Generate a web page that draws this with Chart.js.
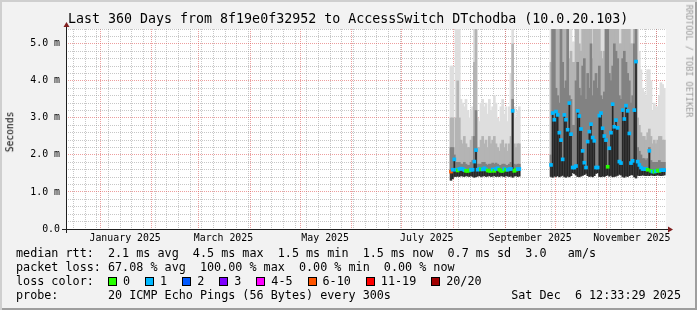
<!DOCTYPE html>
<html>
<head>
<meta charset="utf-8">
<title>Last 360 Days from 8f19e0f32952 to AccessSwitch DTchodba</title>
<script src="https://cdn.jsdelivr.net/npm/chart.js@4.4.1/dist/chart.umd.min.js"></script>
<style>
  html, body { margin: 0; padding: 0; background: #f2f2f2; }
  #frame { position: relative; width: 697px; height: 310px; background: #f2f2f2;
           box-shadow: inset 2px 2px 0 #cfcfcf, inset -2px -2px 0 #9e9e9e; overflow: hidden;
           font-family: "DejaVu Sans Mono", monospace; color: #000; }
  #chart { position: absolute; left: 0; top: 0; }
  .txt { position: absolute; white-space: pre; line-height: 1; }
  #title { left: 68px; top: 12.2px; font-size: 13.3px; }
  .leg { left: 16px; font-size: 11.75px; }
  #ylab { left: 10px; top: 132px; font-size: 9.6px; transform: translate(-50%, -50%) rotate(-90deg); }
  #wm { left: 688.5px; top: 61px; font-size: 8.5px; color: #9a9a9a; transform: translate(-50%, -50%) rotate(90deg); }
  #date { right: 16px; top: 290px; font-size: 11.75px; }
  #boxes { position: absolute; left: 108px; top: 276px; display: flex; align-items: center; font-size: 11.75px; line-height: 1; white-space: pre; }
  .bx { width: 9px; height: 9px; box-sizing: border-box; border: 1px solid #000; margin-right: 6px; }
  .bl { margin-right: 15px; }
</style>
</head>
<body>
<div id="frame">
  <canvas id="chart" width="697" height="310"></canvas>
  <div id="title" class="txt"></div>
  <div id="ylab" class="txt"></div>
  <div id="wm" class="txt"></div>
  <div id="l1" class="txt leg" style="top:248px"></div>
  <div id="l2" class="txt leg" style="top:262px"></div>
  <div id="l3" class="txt leg" style="top:276px"></div>
  <div id="boxes"></div>
  <div id="l4" class="txt leg" style="top:290px"></div>
  <div id="date" class="txt"></div>
</div>
<script>
// ---------- texts ----------
const titleText = 'Last 360 Days from 8f19e0f32952 to AccessSwitch DTchodba (10.0.20.103)';
const yAxisTitle = 'Seconds';
const watermark = 'RRDTOOL / TOBI OETIKER';
const legendRtt = 'median rtt:  2.1 ms avg  4.5 ms max  1.5 ms min  1.5 ms now  0.7 ms sd  3.0   am/s';
const legendLoss = 'packet loss: 67.08 % avg  100.00 % max  0.00 % min  0.00 % now';
const legendColorTitle = 'loss color:';
const legendProbe = 'probe:       20 ICMP Echo Pings (56 Bytes) every 300s';
const dateText = 'Sat Dec  6 12:33:29 2025';

// ---------- axes ----------
const START_MS = Date.UTC(2024, 11, 11, 12, 33, 29);
const DAY_MS = 86400000;
const SPAN_DAYS = 360;
const Y_MAX = 5.4;
const monthLabels = ['January 2025', 'March 2025', 'May 2025', 'July 2025', 'September 2025', 'November 2025'];
const labelMonthIndex = [0, 2, 4, 6, 8, 10];
const yTickLabels = ['0.0', '1.0 m', '2.0 m', '3.0 m', '4.0 m', '5.0 m'];

// ---------- loss colours ----------
const lossBins = ['0', '1', '2', '3', '4-5', '6-10', '11-19', '20/20'];
const lossColors = ['#26ff00', '#00b8ff', '#0059ff', '#7e00ff', '#ff00ff', '#ff5500', '#ff0000', '#a00000'];

// ---------- data: segment A (first day index 231 = late July 2025) ----------
const firstDayA = 231;
const medianA = [1.55,1.60,1.88,1.60,1.58,1.62,1.63,1.62,1.59,1.57, 1.57,1.58,1.60,1.60,1.82,2.13,1.60,1.62,1.61,1.61,
                 1.64,1.61,1.58,1.57,1.57,1.61,1.57,1.62,1.64,1.60, 1.57,1.57,1.62,1.60,1.60,1.62,1.62,3.19,1.57,1.60, 1.62,1.62];
const lossA   = [8,1,1,1,0,1,1,1,1,0, 0,0,1,1,1,1,1,1,0,1, 1,1,0,0,0,1,0,1,1,0, 0,0,1,0,1,1,1,1,0,0, 1,1];
const minA    = [1.32,1.36,1.42,1.42,1.43,1.42,1.44,1.43,1.42,1.44, 1.43,1.42,1.44,1.42,1.40,1.41,1.43,1.44,1.42,1.43,
                 1.44,1.42,1.43,1.44,1.42,1.43,1.44,1.42,1.43,1.42, 1.44,1.43,1.42,1.44,1.43,1.42,1.43,1.40,1.43,1.44, 1.42,1.43];
const maxA    = [4.4,4.4,3.0,5.5,5.5,5.5,3.5,3.4,3.3,3.5, 3.2,3.0,3.2,3.3,5.5,5.5,3.0,2.9,3.4,3.5,
                 3.3,3.4,3.1,3.5,3.2,3.3,3.6,3.4,3.0,2.9, 3.3,3.5,3.1,3.3,2.9,3.3,4.2,5.5,3.3,3.0, 3.2,3.3];
const p80A    = [3.0,3.0,2.2,3.0,4.0,3.0,2.4,2.3,2.5,2.3, 2.2,2.2,2.4,2.5,4.5,5.5,2.2,2.2,2.4,2.5,
                 2.3,2.4,2.2,2.5,2.3,2.4,2.5,2.3,2.2,2.1, 2.3,2.4,2.2,2.3,2.1,2.3,2.5,5.0,2.3,2.2, 2.3,2.3];
const p60A    = [2.2,2.2,2.0,1.8,1.8,1.8,1.75,1.75,1.8,1.75, 1.72,1.72,1.8,1.85,2.5,3.2,1.75,1.75,1.75,1.8,
                 1.8,1.75,1.72,1.75,1.75,1.78,1.75,1.78,1.75,1.72, 1.72,1.75,1.75,1.72,1.72,1.75,1.8,3.5,1.75,1.72, 1.75,1.75];

// ---------- data: segment B (first day index 291 = late September 2025) ----------
const firstDayB = 291;
const medianB = [1.73,3.13,2.95,3.17,3.08,2.60,2.40,1.88,3.08,2.95, 2.68,3.40,2.56,1.66,1.66,1.70,3.19,3.05,2.70,2.11,
                 1.79,1.66,2.36,2.63,2.83,2.47,2.38,1.66,1.66,3.06, 3.13,2.72,2.51,2.40,1.68,2.18,2.60,3.37,2.76,2.94,
                 2.73,1.82,1.78,3.21,2.97,3.33,3.19,2.58,1.78,1.84, 3.21,4.52,1.82,1.73,1.66,1.62,1.62,1.62,1.60,2.11,
                 1.57,1.55,1.55,1.56,1.58,1.57,1.59,1.59,1.59];
const lossB   = [1,1,1,1,1,1,1,1,1,1, 1,1,1,1,1,1,1,1,1,1, 1,1,1,1,1,1,1,1,1,1, 1,1,1,1,0,1,1,1,1,1,
                 1,1,1,1,1,1,1,1,1,1, 1,1,1,1,1,1,1,1,0,1, 0,1,0,1,0,0,1,1,1];
const minB    = [1.42,1.40,1.43,1.42,1.44,1.41,1.43,1.45,1.42,1.40, 1.43,1.41,1.44,1.52,1.50,1.46,1.42,1.41,1.43,1.45,
                 1.47,1.50,1.44,1.42,1.43,1.41,1.44,1.50,1.52,1.42, 1.41,1.43,1.42,1.44,1.46,1.43,1.45,1.41,1.42,1.43,
                 1.45,1.48,1.46,1.42,1.40,1.43,1.42,1.44,1.47,1.46, 1.41,1.38,1.45,1.44,1.45,1.46,1.45,1.44,1.45,1.44,
                 1.46,1.45,1.44,1.45,1.46,1.45,1.44,1.45,1.46];
const maxB    = [5.5,5.5,5.5,5.5,5.5,5.5,5.5,5.5,5.5,5.5, 5.5,5.5,5.5,5.05,5.05,5.5,5.5,5.5,5.5,5.5,
                 5.5,5.5,5.5,5.5,5.5,5.5,5.5,5.5,5.5,5.5, 5.5,5.5,5.5,5.5,5.5,5.5,5.5,5.5,5.5,5.5,
                 5.5,5.5,5.5,5.5,5.5,5.5,5.5,5.5,5.5,5.5, 5.5,5.5,5.4,4.8,4.3,3.8,3.7,3.6,4.3,4.3,
                 4.0,3.2,3.4,3.3,3.3,3.6,3.95,3.9,3.8];
const p80B    = [4.5,5.5,5.5,5.5,5.5,5.5,5.5,5.5,5.5,5.5, 5.5,4.6,4.8,4.5,4.5,5.5,5.5,5.0,4.8,5.5,
                 5.5,5.5,5.5,5.5,5.5,4.6,5.5,5.5,5.5,5.5, 4.8,4.6,4.8,5.5,5.5,5.5,5.5,5.5,5.5,5.5,
                 5.5,5.0,5.0,5.5,5.5,5.5,5.5,5.5,5.0,5.0, 5.5,5.5,3.0,2.8,2.6,2.5,2.5,2.4,2.6,2.7,
                 2.5,2.3,2.4,2.3,2.4,2.5,2.5,2.4,2.4];
const p60B    = [2.0,5.5,5.5,3.8,3.6,3.4,5.5,4.5,3.8,4.0, 5.5,3.6,3.5,2.8,2.8,4.0,4.5,3.8,3.6,4.4,
                 4.6,3.5,4.2,3.8,5.0,3.6,4.0,4.2,3.8,4.4, 3.6,3.5,3.7,5.5,5.5,4.2,4.0,4.4,5.0,4.8,
                 4.6,3.6,3.5,4.6,4.8,4.5,4.2,4.0,3.4,3.6, 5.0,5.5,2.2,2.1,2.0,1.9,1.9,1.85,1.9,2.2,
                 1.85,1.8,1.8,1.8,1.8,1.85,1.8,1.8,1.8];

// ---------- build ----------
function lossIndex(n) {
  if (n <= 3) return n;
  if (n <= 5) return 4;
  if (n <= 10) return 5;
  if (n <= 19) return 6;
  return 7;
}
function rangePoints(first, lo, hi) {
  return lo.map((v, i) => ({ x: first + i, y: [v, hi[i]] }));
}
function layer(loA, hiA, loB, hiB) {
  return rangePoints(firstDayA, loA, hiA).concat(rangePoints(firstDayB, loB, hiB));
}
const MARK_HALF = 1.5 * Y_MAX / 200; // half height of the median marker (1.5 px)
const medianPts = medianA.map((m, i) => ({ x: firstDayA + i, y: [m - MARK_HALF, m + MARK_HALF], loss: lossA[i] }))
  .concat(medianB.map((m, i) => ({ x: firstDayB + i, y: [m - MARK_HALF, m + MARK_HALF], loss: lossB[i] })));

function dayOf(y, m, d) { return (Date.UTC(y, m, d) - START_MS) / DAY_MS; }
const monthStarts = [];
for (let k = 0; k < 14; k++) { const v = dayOf(2024, 11 + k, 1); if (v > 0 && v < SPAN_DAYS) monthStarts.push(v); }
const weekLines = [];
for (let v = dayOf(2024, 11, 16); v < SPAN_DAYS; v += 7) weekLines.push(v);
const labelDays = labelMonthIndex.map(m => dayOf(2025, m, 16));
const xTicks = [];
weekLines.forEach(v => xTicks.push({ value: v, kind: 'minor', text: '' }));
monthStarts.forEach(v => xTicks.push({ value: v, kind: 'major', text: '' }));
labelDays.forEach((v, i) => xTicks.push({ value: v, kind: 'label', text: monthLabels[i] }));
xTicks.sort((a, b) => a.value - b.value);

const GRID = 'rgba(143,143,143,0.5)';
const MGRID = 'rgba(222,79,79,0.55)';
const TICK_FONT = { family: 'DejaVu Sans Mono', size: 9.9 };

// ---------- texts into DOM ----------
document.getElementById('title').textContent = titleText;
document.getElementById('ylab').textContent = yAxisTitle;
document.getElementById('wm').textContent = watermark;
document.getElementById('l1').textContent = legendRtt;
document.getElementById('l2').textContent = legendLoss;
document.getElementById('l3').textContent = legendColorTitle;
document.getElementById('l4').textContent = legendProbe;
document.getElementById('date').textContent = dateText;
const boxes = document.getElementById('boxes');
lossBins.forEach((b, i) => {
  const sq = document.createElement('div'); sq.className = 'bx'; sq.style.background = lossColors[i];
  const lb = document.createElement('span'); lb.className = 'bl'; lb.textContent = b;
  boxes.appendChild(sq); boxes.appendChild(lb);
});

// ---------- plugins ----------
const plotBg = {
  id: 'plotBg',
  beforeDraw(chart) {
    const { ctx, chartArea: a } = chart;
    ctx.save(); ctx.fillStyle = '#ffffff';
    ctx.fillRect(a.left, a.top, a.right - a.left, a.bottom - a.top);
    ctx.restore();
  }
};
const rrdAxes = {
  id: 'rrdAxes',
  afterDraw(chart) {
    const { ctx, chartArea: a } = chart;
    const xo = a.left, yo = a.bottom, xr = a.right, yt = a.top;
    ctx.save();
    ctx.strokeStyle = 'rgb(31,31,31)'; ctx.lineWidth = 1;
    ctx.beginPath();
    ctx.moveTo(xo - 4, yo + 0.5); ctx.lineTo(xr + 4, yo + 0.5);
    ctx.moveTo(xo + 0.5, yo + 4); ctx.lineTo(xo + 0.5, yt - 4);
    ctx.stroke();
    ctx.fillStyle = 'rgb(128,31,31)';
    ctx.beginPath(); ctx.moveTo(xr + 2, yo - 2.5); ctx.lineTo(xr + 2, yo + 3.5); ctx.lineTo(xr + 7, yo + 0.5); ctx.closePath(); ctx.fill();
    ctx.beginPath(); ctx.moveTo(xo - 2.5, yt - 2); ctx.lineTo(xo + 3.5, yt - 2); ctx.lineTo(xo + 0.5, yt - 7); ctx.closePath(); ctx.fill();
    ctx.restore();
  }
};

const smokeCommon = { type: 'bar', grouped: false, barThickness: 2, borderWidth: 0, clip: 0 };

new Chart(document.getElementById('chart'), {
  type: 'bar',
  data: {
    datasets: [
      Object.assign({ label: 'max', data: layer(minA, maxA, minB, maxB), backgroundColor: '#dedede', order: 5 }, smokeCommon),
      Object.assign({ label: 'p80', data: layer(minA, p80A, minB, p80B), backgroundColor: '#b4b4b4', order: 4 }, smokeCommon),
      Object.assign({ label: 'p60', data: layer(minA, p60A, minB, p60B), backgroundColor: '#828282', order: 3 }, smokeCommon),
      Object.assign({ label: 'core', data: layer(minA, medianA, minB, medianB), backgroundColor: '#262626', order: 2 }, smokeCommon, { barThickness: 1 }),
      { type: 'bar', label: 'median', data: medianPts, grouped: false, barThickness: 3, borderWidth: 0, clip: 0, order: 1,
        backgroundColor: (c) => lossColors[lossIndex(c.raw ? c.raw.loss : 0)] }
    ]
  },
  options: {
    responsive: false,
    animation: false,
    devicePixelRatio: 1,
    layout: { padding: { left: 0, right: 31, top: 29, bottom: 61 } },
    plugins: { legend: { display: false }, tooltip: { enabled: false }, title: { display: false } },
    scales: {
      x: {
        type: 'linear', min: 0, max: SPAN_DAYS, offset: false, z: 1,
        afterFit(s) { s.height = 20; },
        afterBuildTicks(s) { s.ticks = xTicks.map(t => Object.assign({}, t)); },
        grid: {
          offset: false, drawTicks: false, lineWidth: 1,
          color: (c) => (c.tick && c.tick.kind === 'major') ? MGRID : (c.tick && c.tick.kind === 'minor') ? GRID : 'rgba(0,0,0,0)'
        },
        border: { display: false, dash: [1, 1] },
        ticks: {
          autoSkip: false, maxRotation: 0, minRotation: 0, padding: 3, color: '#000', font: TICK_FONT,
          callback: (v, i, ts) => (ts[i] && ts[i].text) || ''
        }
      },
      y: {
        type: 'linear', min: 0, max: Y_MAX, z: 1,
        afterFit(s) { s.width = 66; },
        grid: {
          drawTicks: false, lineWidth: 1,
          color: (c) => {
            const v = c.tick ? c.tick.value : 0;
            return Math.abs(v - Math.round(v)) < 1e-6 ? MGRID : GRID;
          }
        },
        border: { display: false, dash: [1, 1] },
        ticks: {
          stepSize: 0.2, autoSkip: false, padding: 6, color: '#000', font: TICK_FONT,
          callback: (v) => {
            const r = Math.round(v);
            return Math.abs(v - r) < 1e-6 ? (yTickLabels[r] || '') : '';
          }
        }
      }
    }
  },
  plugins: [plotBg, rrdAxes]
});
</script>
</body>
</html>
